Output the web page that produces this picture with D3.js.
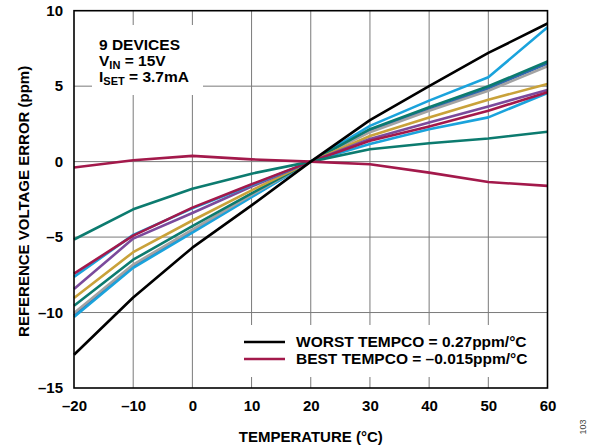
<!DOCTYPE html>
<html>
<head>
<meta charset="utf-8">
<script src="https://cdn.jsdelivr.net/npm/d3@7"></script>
<style>
  html, body { margin: 0; padding: 0; background: #fff; }
  svg { display: block; }
  text { font-family: "Liberation Sans", Arial, Helvetica, sans-serif; }
</style>
</head>
<body>
<svg id="chart" width="595" height="448"></svg>
<script>
// Temperatures (°C) at which each device was measured
const temperatures = [-20, -10, 0, 10, 20, 30, 40, 50, 60];

// Reference voltage error (ppm) per device, normalised to 0 at 20 °C
const deviceWorst  = [-12.8, -9.0, -5.7, -2.9, 0, 2.75, 5.0, 7.2, 9.15];
const deviceBest   = [-0.39, 0.09, 0.38, 0.15, 0, -0.17, -0.73, -1.35, -1.61];
const deviceTealA  = [-5.16, -3.16, -1.8, -0.8, 0, 0.82, 1.22, 1.53, 1.98];
const deviceTealB  = [-9.55, -6.5, -4.27, -2.1, 0, 2.15, 3.6, 4.99, 6.63];
const deviceCyanA  = [-7.64, -4.85, -3.1, -1.55, 0, 1.16, 2.15, 2.93, 4.55];
const deviceCyanB  = [-10.3, -7.04, -4.7, -2.35, 0, 2.37, 4.04, 5.59, 8.9];
const deviceBlue   = [-10.2, -6.95, -4.6, -2.3, 0, 2.05, 3.45, 4.85, 6.5];
const deviceGray   = [-10.03, -6.82, -4.5, -2.2, 0, 1.95, 3.37, 4.7, 6.32];
const deviceGold   = [-9.04, -6.0, -3.9, -1.9, 0, 1.7, 2.93, 4.1, 5.15];
const devicePurple = [-8.44, -5.1, -3.4, -1.65, 0, 1.5, 2.6, 3.66, 4.75];
const deviceRed    = [-7.42, -4.9, -3.05, -1.5, 0, 1.38, 2.33, 3.37, 4.6];

// Axis ticks
const xTicks = [-20, -10, 0, 10, 20, 30, 40, 50, 60];
const yTicks = [-15, -10, -5, 0, 5, 10];

// Legend entries
const legendLabels = ["WORST TEMPCO = 0.27ppm/°C", "BEST TEMPCO = \u20130.015ppm/°C"];

const series = [
  { values: deviceBlue,   color: "#2f68b0" },
  { values: deviceCyanB,  color: "#1aa3dc" },
  { values: deviceGray,   color: "#a3a3a3" },
  { values: deviceTealB,  color: "#0c7b6f" },
  { values: deviceGold,   color: "#c9a23a" },
  { values: devicePurple, color: "#7b4a9c" },
  { values: deviceCyanA,  color: "#1aa3dc" },
  { values: deviceRed,    color: "#a3194b" },
  { values: deviceTealA,  color: "#0c7b6f" },
  { values: deviceBest,   color: "#a3194b" },
  { values: deviceWorst,  color: "#000000" }
];

const margin = { left: 74, right: 47.5, top: 10.7, bottom: 60 };
const W = 595, H = 448;
const svg = d3.select("#chart");

const x = d3.scaleLinear().domain([-20, 60]).range([margin.left, W - margin.right]);
const y = d3.scaleLinear().domain([-15, 10]).range([388, margin.top]);

const fmt = v => (v < 0 ? "\u2013" + Math.abs(v) : String(v));

// Grid
const grid = svg.append("g");
grid.selectAll("line.v").data(xTicks.slice(1, -1)).join("line")
  .attr("x1", d => x(d)).attr("x2", d => x(d))
  .attr("y1", y(10)).attr("y2", y(-15))
  .attr("stroke", "#7a7a7a").attr("stroke-width", 1);
grid.selectAll("line.h").data(yTicks.slice(1, -1)).join("line")
  .attr("x1", x(-20)).attr("x2", x(60))
  .attr("y1", d => y(d)).attr("y2", d => y(d))
  .attr("stroke", "#7a7a7a").attr("stroke-width", 1);

// White panels behind the notes
svg.append("rect").attr("x", 92).attr("y", 25).attr("width", 111).attr("height", 70).attr("fill", "#fff");
svg.append("rect").attr("x", 238).attr("y", 325).attr("width", 308).attr("height", 52).attr("fill", "#fff");

// Device curves
const line = d3.line().x((d, i) => x(temperatures[i])).y(d => y(d));
svg.append("g").selectAll("path").data(series).join("path")
  .attr("d", d => line(d.values))
  .attr("fill", "none")
  .attr("stroke", d => d.color)
  .attr("stroke-width", 2.6)
  .attr("stroke-linejoin", "round");

// Frame
svg.append("rect")
  .attr("x", x(-20)).attr("y", y(10))
  .attr("width", x(60) - x(-20)).attr("height", y(-15) - y(10))
  .attr("fill", "none").attr("stroke", "#000").attr("stroke-width", 1.6);

// Axes (labels only; the frame and grid draw the lines)
const xAxis = svg.append("g").attr("transform", `translate(0,${y(-15)})`)
  .call(d3.axisBottom(x).tickValues(xTicks).tickFormat(fmt).tickSize(0).tickPadding(12));
const yAxis = svg.append("g").attr("transform", `translate(${x(-20)},0)`)
  .call(d3.axisLeft(y).tickValues(yTicks).tickFormat(fmt).tickSize(0).tickPadding(11));
[xAxis, yAxis].forEach(a => {
  a.select(".domain").remove();
  a.selectAll("text")
    .attr("font-family", "'Liberation Sans', Arial, sans-serif")
    .attr("font-size", 15).attr("font-weight", "bold").attr("fill", "#000");
});

// Axis titles
svg.append("text")
  .attr("x", x(20)).attr("y", 442)
  .attr("text-anchor", "middle").attr("font-size", 15).attr("font-weight", "bold")
  .text("TEMPERATURE (°C)");
svg.append("text")
  .attr("transform", `translate(29,${(y(10) + y(-15)) / 2 + 2}) rotate(-90)`)
  .attr("text-anchor", "middle").attr("font-size", 15).attr("font-weight", "bold")
  .text("REFERENCE VOLTAGE ERROR (ppm)");

// Figure number
svg.append("text")
  .attr("transform", "translate(586,427) rotate(-90)")
  .attr("text-anchor", "middle").attr("font-size", 9).attr("fill", "#444")
  .text("103");

// Test conditions note
const note = svg.append("g").attr("font-size", 15.5).attr("font-weight", "bold");
note.append("text").attr("x", 99).attr("y", 50).text("9 DEVICES");
const vin = note.append("text").attr("x", 99).attr("y", 66);
vin.append("tspan").text("V");
vin.append("tspan").attr("font-size", 11).attr("dy", 3).text("IN");
vin.append("tspan").attr("dy", -3).text(" = 15V");
const iset = note.append("text").attr("x", 99).attr("y", 82);
iset.append("tspan").text("I");
iset.append("tspan").attr("font-size", 11).attr("dy", 3).text("SET");
iset.append("tspan").attr("dy", -3).text(" = 3.7mA");

// Legend
const legendColors = ["#000000", "#a3194b"];
const lg = svg.append("g");
legendLabels.forEach((t, i) => {
  const yy = 342 + i * 17;
  lg.append("line").attr("x1", 244).attr("x2", 285).attr("y1", yy).attr("y2", yy)
    .attr("stroke", legendColors[i]).attr("stroke-width", 2.6);
  lg.append("text").attr("x", 296).attr("y", yy + 5)
    .attr("font-size", 15.5).attr("font-weight", "bold").text(t);
});
</script>
</body>
</html>
